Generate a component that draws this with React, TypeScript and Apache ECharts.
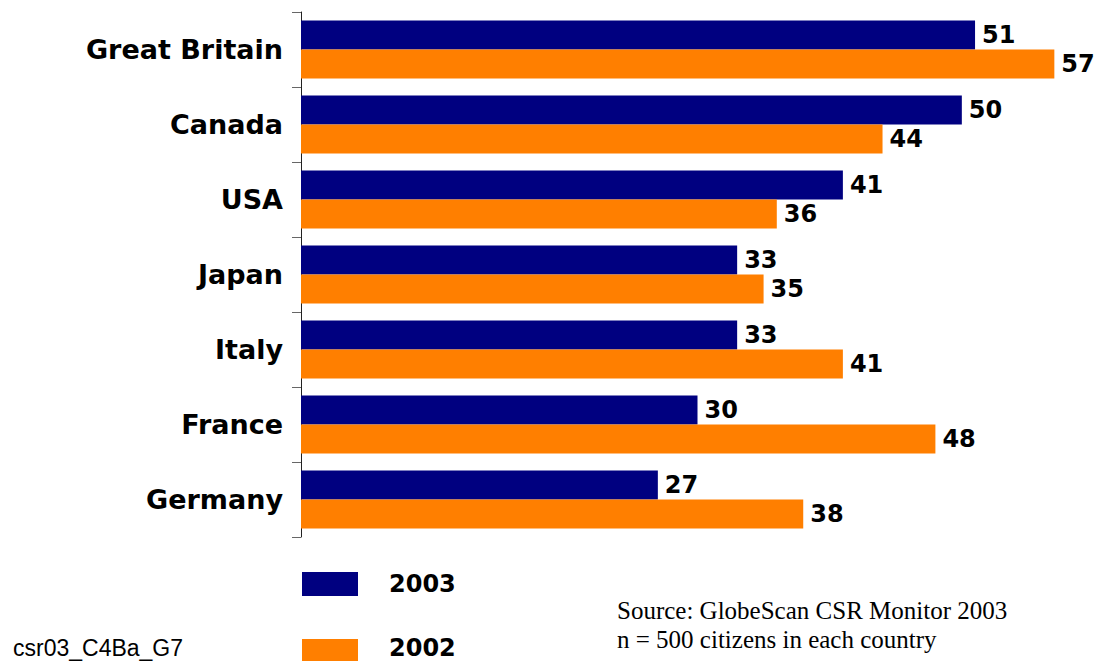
import React, { useEffect, useRef } from "react";
import * as echarts from "echarts";

const countries = ["Great Britain", "Canada", "USA", "Japan", "Italy", "France", "Germany"];
const values2003 = [51, 50, 41, 33, 33, 30, 27];
const values2002 = [57, 44, 36, 35, 41, 48, 38];
const seriesNames = ["2003", "2002"];
const seriesColors = ["#000080", "#ff7f00"];
const sourceLines = ["Source: GlobeScan CSR Monitor 2003", "n = 500 citizens in each country"];
const codeLabel = "csr03_C4Ba_G7";

export default function App() {
  const ref = useRef<HTMLDivElement>(null);
  useEffect(() => {
    if (!ref.current) return;
    const chart = echarts.init(ref.current, null, { renderer: "svg" });
    const labelStyle = {
      show: true,
      position: "right" as const,
      distance: 7,
      color: "#000",
      fontFamily: "DejaVu Sans",
      fontWeight: "bold" as const,
      fontSize: 24,
    };
    const legendTops = [572, 639];
    const legendTextY = [584, 648];
    const legendGraphics: any[] = [];
    seriesNames.forEach((name, i) => {
      legendGraphics.push({
        type: "rect",
        shape: { x: 302, y: legendTops[i], width: 56, height: 24 },
        style: { fill: seriesColors[i] },
      });
      legendGraphics.push({
        type: "text",
        x: 389,
        y: legendTextY[i],
        style: {
          text: name,
          fill: "#000",
          font: "bold 24px 'DejaVu Sans'",
          verticalAlign: "middle",
        },
      });
    });
    chart.setOption({
      animation: false,
      backgroundColor: "#fff",
      grid: { left: 301, top: 12, width: 793, bottom: 124, containLabel: false },
      xAxis: {
        type: "value",
        min: 0,
        max: 60,
        show: false,
      },
      yAxis: {
        type: "category",
        data: countries,
        inverse: true,
        axisLine: { show: true, lineStyle: { color: "#222", width: 1 } },
        axisTick: { show: true, length: 9, lineStyle: { color: "#666" } },
        axisLabel: {
          margin: 18,
          color: "#000",
          fontFamily: "DejaVu Sans",
          fontWeight: "bold",
          fontSize: 27,
        },
        splitLine: { show: false },
      },
      series: [
        {
          name: seriesNames[0],
          type: "bar",
          data: values2003,
          barWidth: 29,
          barGap: "0%",
          itemStyle: { color: seriesColors[0] },
          label: labelStyle,
        },
        {
          name: seriesNames[1],
          type: "bar",
          data: values2002,
          barWidth: 29,
          barGap: "0%",
          itemStyle: { color: seriesColors[1] },
          label: labelStyle,
        },
      ],
      graphic: [
        ...legendGraphics,
        {
          type: "text",
          x: 617,
          y: 596,
          style: {
            text: sourceLines.join("\n"),
            fill: "#000",
            font: "25px 'Liberation Serif'",
            lineHeight: 29,
          },
        },
        {
          type: "text",
          x: 13,
          y: 636,
          style: {
            text: codeLabel,
            fill: "#000",
            font: "23px 'Liberation Sans'",
          },
        },
      ],
    });
    return () => chart.dispose();
  }, []);
  return (
    <div
      ref={ref}
      style={{ position: "absolute", left: 0, top: 0, width: 1103, height: 661 }}
    />
  );
}
